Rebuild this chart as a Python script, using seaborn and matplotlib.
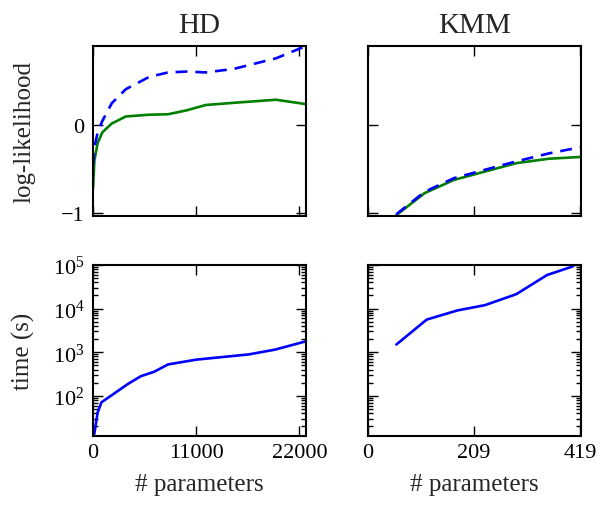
import matplotlib
matplotlib.use("Agg")
import matplotlib.pyplot as plt
import matplotlib.ticker as mticker
import seaborn as sns

# HD: log-likelihood vs number of parameters
hd_params = [0, 150, 500, 1000, 2000, 3500, 6000, 8000, 10000, 12000, 15000, 19500, 22700]
hd_loglik_green = [-0.72, -0.40, -0.20, -0.08, 0.02, 0.10, 0.12, 0.125, 0.17, 0.23, 0.255, 0.29, 0.24]
hd_loglik_blue = [-0.45, -0.25, -0.08, 0.05, 0.25, 0.41, 0.55, 0.60, 0.61, 0.60, 0.64, 0.76, 0.90]

# HD: running time
hd_time_params = [0, 100, 500, 900, 1900, 3700, 5100, 6500, 8000, 11000, 16600, 19400, 22700]
hd_time = [11, 12, 42, 71, 100, 186, 282, 355, 525, 676, 891, 1148, 1780]

# KMM: log-likelihood
kmm_params = [56, 112, 170, 228, 293, 357, 419]
kmm_loglik_green = [-1.02, -0.77, -0.62, -0.53, -0.43, -0.38, -0.36]
kmm_loglik_blue = [-1.01, -0.755, -0.60, -0.51, -0.41, -0.32, -0.25]

# KMM: running time
kmm_time_params = [56, 116, 177, 231, 293, 354, 405]
kmm_time = [1500, 5600, 9100, 12000, 21400, 59000, 93000]

sns.set_style("ticks")
plt.rcParams["font.family"] = "serif"
plt.rcParams["font.serif"] = ["Liberation Serif", "DejaVu Serif"]
plt.rcParams["mathtext.fontset"] = "stix"
plt.rcParams["axes.linewidth"] = 1.5
plt.rcParams["axes.edgecolor"] = "black"

fig = plt.figure(figsize=(6, 5.1), dpi=100)
w, h = 213 / 600, 170 / 510
ax_hd = fig.add_axes([93 / 600, 1 - 217 / 510, w, h])
ax_kmm = fig.add_axes([368 / 600, 1 - 217 / 510, w, h])
ax_hdt = fig.add_axes([93 / 600, 1 - 437 / 510, w, 171 / 510])
ax_kmmt = fig.add_axes([368 / 600, 1 - 437 / 510, w, 171 / 510])

blue = (0, 0, 1)
green = (0, 0.5, 0)

def draw(ax, x, y, color, dashed=False):
    sns.lineplot(x=x, y=y, ax=ax, color=color, lw=1.9)
    if dashed:
        ax.lines[-1].set_dashes((4.5, 3))

draw(ax_hd, hd_params, hd_loglik_green, green)
draw(ax_hd, hd_params, hd_loglik_blue, blue, dashed=True)
draw(ax_kmm, kmm_params, kmm_loglik_green, green)
draw(ax_kmm, kmm_params, kmm_loglik_blue, blue, dashed=True)
ax_hdt.set_yscale("log")
ax_kmmt.set_yscale("log")
draw(ax_hdt, hd_time_params, hd_time, blue)
draw(ax_kmmt, kmm_time_params, kmm_time, blue)

for ax in [ax_hd, ax_kmm, ax_hdt, ax_kmmt]:
    ax.tick_params(which="both", direction="in", top=True, right=True,
                   colors="black", labelsize=16, width=1.0)
    ax.tick_params(which="major", length=7)
    ax.tick_params(which="minor", length=3.5)
    ax.tick_params(axis="x", pad=5)
    ax.tick_params(axis="y", pad=6)
    ax.set_xlabel("")
    ax.set_ylabel("")

for ax in [ax_hd, ax_hdt]:
    ax.set_xlim(0, 22700)
    ax.set_xticks([0, 11000, 22000])
for ax in [ax_kmm, ax_kmmt]:
    ax.set_xlim(0, 421)
    ax.set_xticks([0, 209, 419])

for ax in [ax_hd, ax_kmm]:
    ax.set_ylim(-1.03, 0.9)
    ax.set_yticks([-1, 0])
    ax.tick_params(axis="x", labelbottom=False)
for ax in [ax_hdt, ax_kmmt]:
    ax.set_ylim(12, 1e5)
    ax.yaxis.set_major_locator(mticker.LogLocator(base=10, numticks=20))
    ax.yaxis.set_minor_locator(mticker.LogLocator(base=10, subs=range(2, 10), numticks=20))
    ax.yaxis.set_minor_formatter(mticker.NullFormatter())
    ax.set_xlabel("# parameters", fontsize=18, labelpad=8)

ax_kmm.tick_params(axis="y", labelleft=False)
ax_kmmt.tick_params(axis="y", labelleft=False)

ax_hd.set_title("HD", fontsize=21, pad=10)
ax_kmm.set_title("KMM", fontsize=21, pad=10)
ax_hd.set_ylabel("log-likelihood", fontsize=18)
ax_hdt.set_ylabel("time (s)", fontsize=18)
ax_hd.yaxis.set_label_coords(-0.27, 0.5)
ax_hdt.yaxis.set_label_coords(-0.27, 0.5)

fig.savefig("out.png", dpi=100)
